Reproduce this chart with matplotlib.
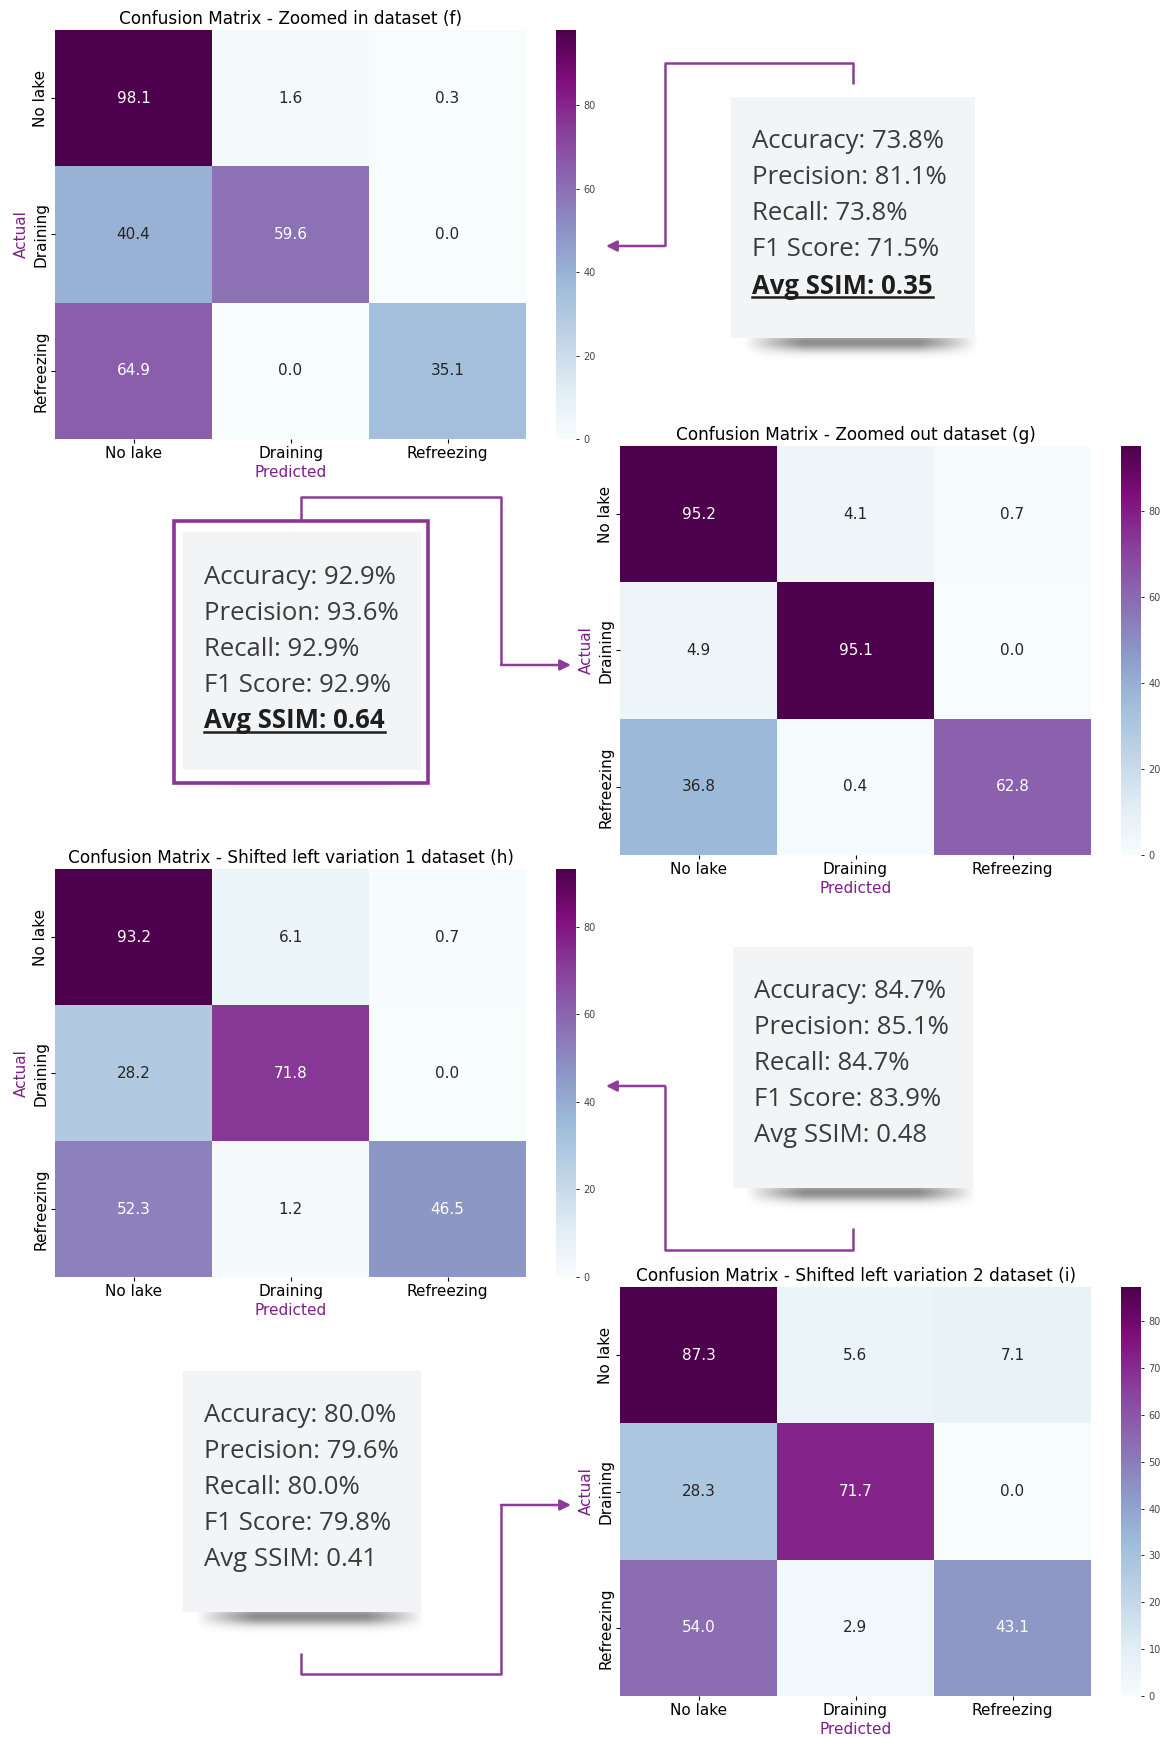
import numpy as np
import matplotlib.pyplot as plt
import seaborn as sns
from matplotlib.patches import Rectangle

W, H = 1168, 1737
classes = ["No lake", "Draining", "Refreezing"]

# row-normalised confusion matrices (%)
cm_f = [[98.1, 1.6, 0.3], [40.4, 59.6, 0.0], [64.9, 0.0, 35.1]]
cm_g = [[95.2, 4.1, 0.7], [4.9, 95.1, 0.0], [36.8, 0.4, 62.8]]
cm_h = [[93.2, 6.1, 0.7], [28.2, 71.8, 0.0], [52.3, 1.2, 46.5]]
cm_i = [[87.3, 5.6, 7.1], [28.3, 71.7, 0.0], [54.0, 2.9, 43.1]]

titles = ["Confusion Matrix - Zoomed in dataset (f)",
          "Confusion Matrix - Zoomed out dataset (g)",
          "Confusion Matrix - Shifted left variation 1 dataset (h)",
          "Confusion Matrix - Shifted left variation 2 dataset (i)"]

# metrics per dataset: accuracy, precision, recall, f1, ssim
metrics_f = [73.8, 81.1, 73.8, 71.5, 0.35]
metrics_g = [92.9, 93.6, 92.9, 92.9, 0.64]
metrics_h = [84.7, 85.1, 84.7, 83.9, 0.48]
metrics_i = [80.0, 79.6, 80.0, 79.8, 0.41]

purple = "#7d1f8a"
arrow_col = "#8c3d98"
text_col = "#3b3b3b"

fig = plt.figure(figsize=(W / 100, H / 100), dpi=100)


def px_axes(x0, y0, x1, y1):
    return fig.add_axes([x0 / W, 1 - y1 / H, (x1 - x0) / W, (y1 - y0) / H])


def draw_cm(cm, title, hm_box, cb_x, cb_ticks):
    x0, y0, x1, y1 = hm_box
    ax = px_axes(x0, y0, x1, y1)
    cax = px_axes(cb_x, y0, cb_x + 20, y1)
    data = np.array(cm)
    sns.heatmap(data, ax=ax, cbar_ax=cax, cmap="BuPu", vmin=0, vmax=data.max(),
                annot=True, fmt=".1f", annot_kws={"fontsize": 11},
                xticklabels=classes, yticklabels=classes)
    ax.set_title(title, fontsize=12.2, pad=4)
    ax.set_xlabel("Predicted", color=purple, fontsize=11, labelpad=3)
    ax.set_ylabel("Actual", color=purple, fontsize=11, labelpad=3)
    ax.tick_params(labelsize=11, length=3, pad=2)
    plt.setp(ax.get_yticklabels(), rotation=90, va="center")
    plt.setp(ax.get_xticklabels(), rotation=0)
    cax.set_yticks(cb_ticks)
    cax.tick_params(labelsize=7, labelcolor="#444444", length=2, width=0.6)


draw_cm(cm_f, titles[0], (55, 30, 526, 439), 556, [0, 20, 40, 60, 80])
draw_cm(cm_g, titles[1], (620, 446, 1091, 855), 1121, [0, 20, 40, 60, 80])
draw_cm(cm_h, titles[2], (55, 869, 526, 1277), 556, [0, 20, 40, 60, 80])
draw_cm(cm_i, titles[3], (620, 1287, 1091, 1696), 1121, list(range(0, 90, 10)))

# overlay in pixel coordinates for the metric cards and connectors
ov = fig.add_axes([0, 0, 1, 1], zorder=10)
ov.patch.set_alpha(0)
ov.axis("off")


def card(x0, y0, x1, y1, vals, bold_ssim):
    # soft shadow under the card
    sh_h = 50
    yy = np.linspace(y1 - 10, y1 + sh_h, 120)[:, None]
    xx = np.linspace(0, 1, 200)[None, :]
    taper = np.clip(np.sin(np.pi * xx) * 1.4, 0, 1)
    alpha = 0.45 * np.exp(-((yy - (y1 + 4)) / 9.0) ** 2) * taper
    img = np.zeros((120, 200, 4))
    img[..., 3] = alpha
    ov.imshow(img, extent=(x0 + 12, x1 + 4, y1 + sh_h, y1 - 10), aspect="auto",
              interpolation="bilinear", zorder=1)
    ov.add_patch(Rectangle((x0, y0), x1 - x0, y1 - y0, facecolor="#f3f4f6",
                           edgecolor="none", zorder=2))
    lines = ["Accuracy: %.1f%%" % vals[0], "Precision: %.1f%%" % vals[1],
             "Recall: %.1f%%" % vals[2], "F1 Score: %.1f%%" % vals[3],
             "Avg SSIM: %.2f" % vals[4]]
    tx = x0 + 21
    ty = y0 + 45
    texts = []
    for i, s in enumerate(lines):
        last = i == 4
        t = ov.text(tx, ty + i * 36, s, fontsize=18.5, family="Open Sans",
                    color="#1e1e1e" if (last and bold_ssim) else text_col,
                    fontweight="bold" if (last and bold_ssim) else "normal",
                    va="center", ha="left", zorder=3)
        texts.append(t)
    return texts[-1] if bold_ssim else None


def connector(points, head):
    xs, ys = zip(*points)
    ov.plot(xs, ys, color=arrow_col, lw=1.8, solid_joinstyle="round",
            solid_capstyle="butt", zorder=4)
    ov.annotate("", xy=head, xytext=points[-1],
                arrowprops=dict(arrowstyle="-|>", color=arrow_col, lw=1.8,
                                mutation_scale=16, shrinkA=0, shrinkB=0), zorder=4)


underlined = []
underlined.append(card(731, 97, 975, 338, metrics_f, True))
ov.add_patch(Rectangle((174, 521), 254, 262, facecolor="white",
                       edgecolor="#8a3594", lw=2.6, zorder=1.5))
underlined.append(card(183, 532, 421, 770, metrics_g, True))
card(733, 947, 973, 1188, metrics_h, False)
card(183, 1371, 421, 1612, metrics_i, False)

connector([(853, 84), (853, 63), (665, 63), (665, 246)], (606, 246))
connector([(301, 520), (301, 497), (501, 497), (501, 665)], (571, 665))
connector([(853, 1228), (853, 1250), (665, 1250), (665, 1086)], (606, 1086))
connector([(301, 1653), (301, 1674), (501, 1674), (501, 1505)], (571, 1505))

ov.set_xlim(0, W)
ov.set_ylim(H, 0)

# underline the bold SSIM lines
fig.canvas.draw()
r = fig.canvas.get_renderer()
inv = ov.transData.inverted()
for t in underlined:
    bb = t.get_window_extent(r)
    (ax0, ay0), (ax1, ay1) = inv.transform([(bb.x0, bb.y0), (bb.x1, bb.y1)])
    ov.plot([ax0, ax1], [ay0 - 2, ay0 - 2], color="#1e1e1e", lw=1.8, zorder=3)
ov.set_xlim(0, W)
ov.set_ylim(H, 0)

fig.savefig("out.png", dpi=100)
